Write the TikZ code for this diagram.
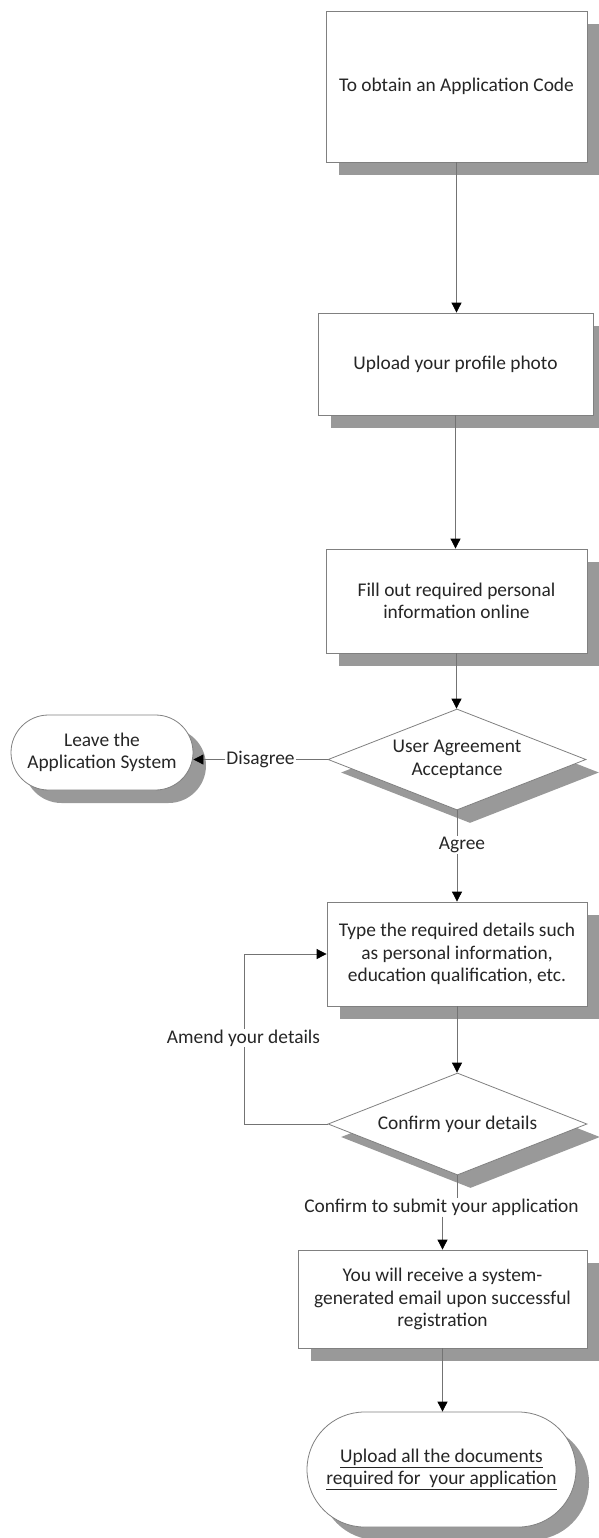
\documentclass[tikz,border=0pt]{standalone}
\usepackage{fontspec}
\setmainfont{Carlito}
\usetikzlibrary{shapes.geometric,shapes.misc,shadows,arrows.meta}
\tikzset{
  base/.style={draw=black!50, fill=white, line width=0.8pt, align=center,
    text=black!85, font=\fontsize{19.4}{22.5}\selectfont,
    drop shadow={shadow xshift=13pt, shadow yshift=-13pt, fill=black!40, opacity=1}},
  box/.style={base, rectangle, inner sep=2pt},
  decision/.style={base, diamond, aspect=2.55, inner sep=0pt},
  term/.style={base, rounded rectangle, inner sep=2pt},
  lbl/.style={fill=white, inner sep=1pt, text=black!85, font=\fontsize{19.4}{22.5}\selectfont},
  conn/.style={draw=black!55, line width=0.8pt},
  arr/.style={-{Triangle[width=10pt,length=10pt,color=black]}}
}
\begin{document}
\begin{tikzpicture}[x=1pt,y=-1pt]
\useasboundingbox (0,0) rectangle (598,1538);

\node[box, minimum width=261pt, minimum height=151pt] (b1) at (456.5,86.5) {To obtain an Application Code};
\node[box, minimum width=275pt, minimum height=102pt] (b2) at (455.5,364) {Upload your profile photo};
\node[box, minimum width=261pt, minimum height=104pt] (b3) at (456.5,601) {Fill out required personal\\information online};
\node[decision, minimum width=258pt, minimum height=101pt] (d1) at (457,759.5) {User Agreement\\Acceptance};
\node[term, minimum width=186pt, minimum height=75pt] (t1) at (102,752.5) {Leave the\\Application System};
\node[box, minimum width=260pt, minimum height=104pt] (b4) at (457,954) {Type the required details such\\as personal information,\\education qualification, etc.};
\node[decision, minimum width=259pt, minimum height=102pt] (d2) at (457.5,1124) {Confirm your details};
\node[box, minimum width=289pt, minimum height=98pt] (b5) at (442.5,1299) {You will receive a system-\\generated email upon successful\\registration};
\node[term, minimum width=273pt, minimum height=115pt] (t2) at (441.5,1469.5) {\underline{Upload all the documents}\\\underline{required for\ \ your application}};

\node[lbl, fill=none] (lAgree) at (462,845) {Agree};
\node[lbl, fill=none] (lConf) at (441.5,1207) {Confirm to submit your application};
\coordinate (loopc) at (244,1124);

\draw[conn,arr] (b1.south) -- (b1.south |- b2.north);
\draw[conn,arr] (b2.south) -- (b2.south |- b3.north);
\draw[conn,arr] (b3.south) -- (b3.south |- d1.north);
\draw[conn,arr] (d1.west) -- (d1.west -| t1.east) node[lbl, pos=0.5] (lDis) {Disagree};
\draw[conn] (d1.south) -- (d1.south |- lAgree.north);
\draw[conn,arr] (lAgree.south -| b4.north) -- (b4.north);
\draw[conn,arr] (b4.south) -- (b4.south |- d2.north);
\draw[conn,arr] (d2.west) -- (loopc) |- (b4.west);
\node[lbl] (lAmend) at (243.5,1038) {Amend your details};
\draw[conn] (d2.south) -- (d2.south |- lConf.north);
\draw[conn,arr] (lConf.south -| b5.north) -- (b5.north);
\draw[conn,arr] (b5.south) -- (b5.south |- t2.north);
\end{tikzpicture}
\end{document}
